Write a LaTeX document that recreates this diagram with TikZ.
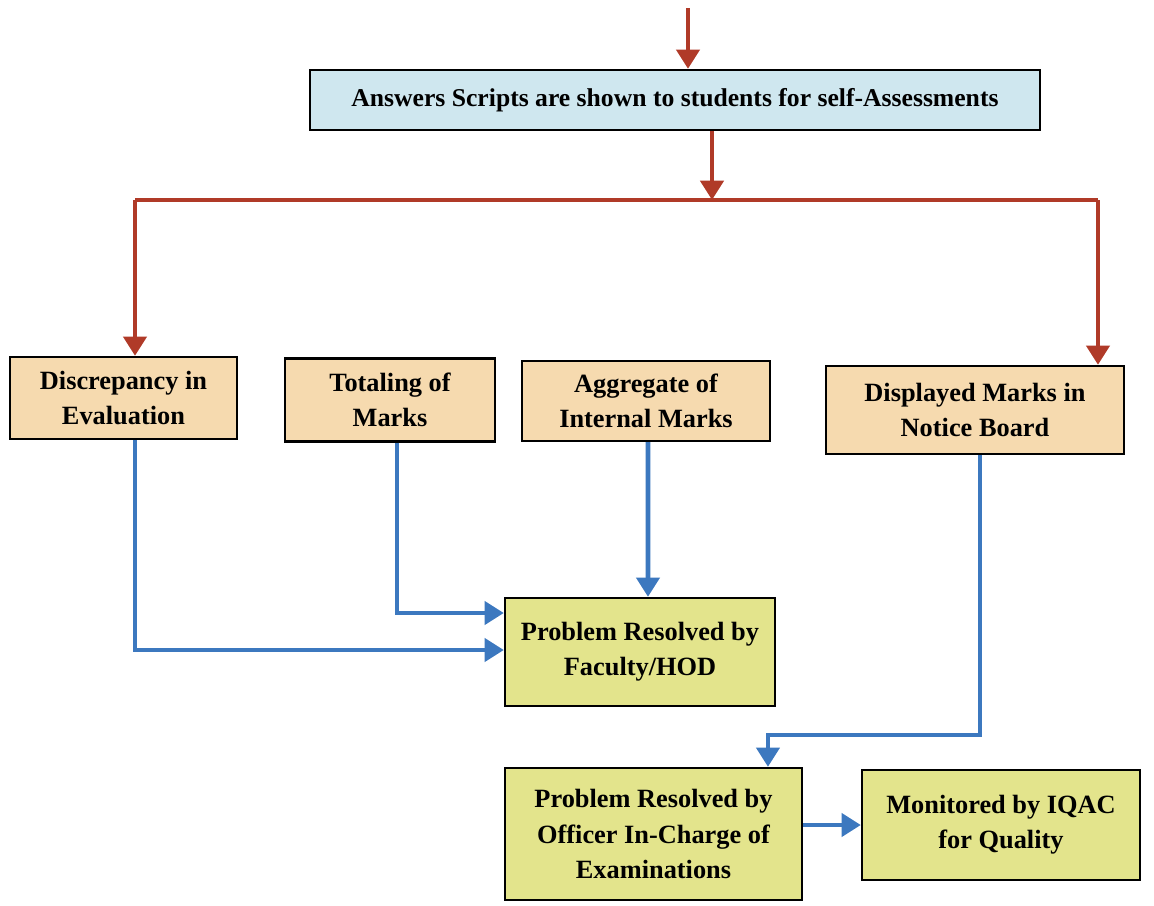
\documentclass[tikz,border=0pt]{standalone}
\usepackage{fontspec}
\setmainfont{Liberation Serif}
\usetikzlibrary{arrows.meta,positioning}

\definecolor{scriptblue}{HTML}{CFE7EF}
\definecolor{issuetan}{HTML}{F6DAAF}
\definecolor{resolvegreen}{HTML}{E3E48C}
\definecolor{flowred}{HTML}{B03A28}
\definecolor{flowblue}{HTML}{3C78BF}

\begin{document}
\begin{tikzpicture}[
			x = 0.02cm, y = -0.02cm, % one unit per pixel
			> = {Triangle[length=11pt,width=13pt]}, % arrow head style
			line width = 1.3pt,
			font=\bfseries\fontsize{15}{20}\selectfont,
			box/.style = {draw, align=center, inner sep=2pt},
			issue/.style = {box, fill=issuetan},
			resolve/.style = {box, fill=resolvegreen},
			redflow/.style = {draw=flowred, line width=2.8pt},
			blueflow/.style = {draw=flowblue, line width=2.8pt}
			]
			
			\useasboundingbox (0,0) rectangle (1154,906);
			
			\node[box, fill=scriptblue, minimum width=14.6cm, minimum height=1.2cm, font=\bfseries\fontsize{14.6}{20}\selectfont] (scripts) at (675,100) {Answers Scripts are shown to students for self-Assessments};
			\node[issue, minimum width=4.54cm, minimum height=1.64cm] (disc) at (123.5,398) {Discrepancy in\\Evaluation};
			\node[issue, minimum width=4.2cm, minimum height=1.66cm] (total) at (390,400) {Totaling of\\Marks};
			\node[issue, minimum width=4.96cm, minimum height=1.6cm] (aggr) at (646,401) {Aggregate of\\Internal Marks};
			\node[issue, minimum width=5.96cm, minimum height=1.76cm] (disp) at (975,410) {Displayed Marks in\\Notice Board};
			\node[resolve, minimum width=5.4cm, minimum height=2.16cm] (hod) at (640,652) {Problem Resolved by\\Faculty/HOD};
			\node[resolve, minimum width=5.94cm, minimum height=2.64cm] (officer) at (653.5,834) {Problem Resolved by\\Officer In-Charge of\\Examinations};
			\node[resolve, minimum width=5.56cm, minimum height=2.2cm] (iqac) at (1001,825) {Monitored by IQAC\\for Quality};
			
			\coordinate (entry) at (688,8);
			\coordinate (split) at (712,200);
			\coordinate (lft) at (135,200);
			\coordinate (rgt) at (1098,200);
			\coordinate (turn) at (870,735);
			
			% red branch
			\draw[redflow, ->] (entry) -- (entry |- scripts.north);
			\draw[redflow, ->] (scripts.south -| split) -- (split);
			\draw[redflow] (lft) -- (rgt);
			\draw[redflow, ->] (lft) -- (lft |- disc.north);
			\draw[redflow, ->] (rgt) -- (rgt |- disp.north);
			
			% blue flow
			\draw[blueflow, ->] ([xshift=0.23cm]disc.south) |- ([yshift=0.04cm]hod.west);
			\draw[blueflow, ->] ([xshift=0.14cm]total.south) |- ([yshift=0.78cm]hod.west);
			\draw[blueflow, ->] ([xshift=0.04cm]aggr.south) -- ([xshift=0.16cm]hod.north);
			\draw[blueflow, ->] ([xshift=0.1cm]disp.south) |- (turn) -| ([xshift=2.29cm]officer.north);
			\draw[blueflow, ->] (iqac.west -| officer.east) -- (iqac.west);
			
		\end{tikzpicture}
\end{document}
